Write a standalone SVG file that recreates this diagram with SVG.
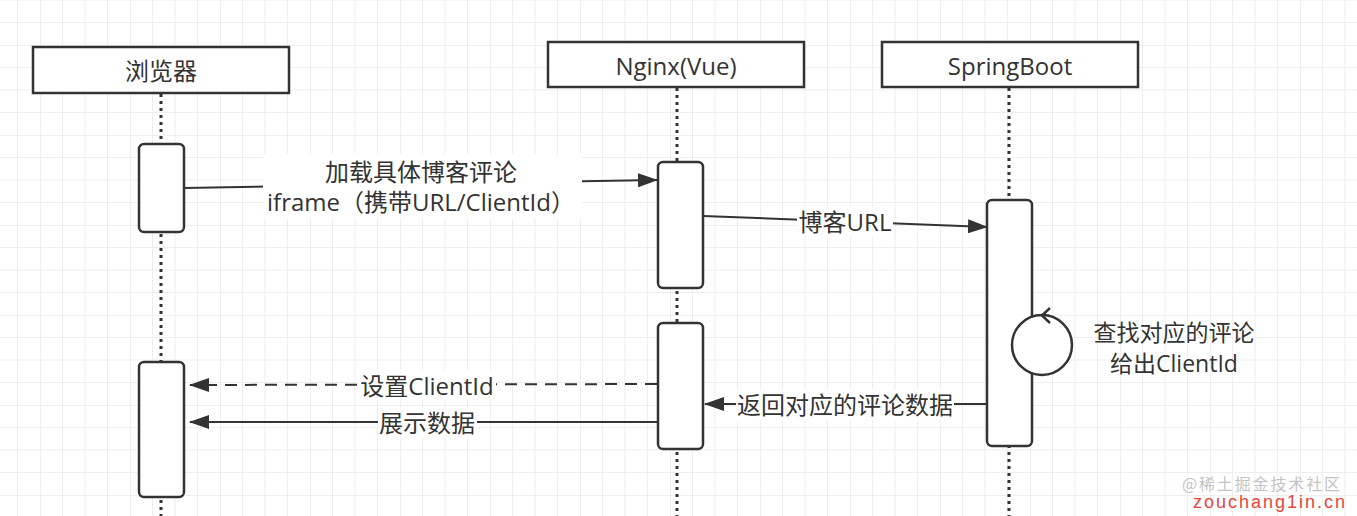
<svg xmlns="http://www.w3.org/2000/svg" width="1357" height="516" viewBox="0 0 1357 516">
<style>
.box{fill:#fff;stroke:#333;stroke-width:2.5}
.act{fill:#fff;stroke:#333;stroke-width:2.5}
.life{stroke:#333;stroke-width:3;stroke-dasharray:3 4;fill:none}
.msg{stroke:#333;stroke-width:2;fill:none}
.dash{stroke-dasharray:12 8}
.t{font-family:"Open Sans","Noto Sans CJK SC",sans-serif;font-size:24px;fill:#333;text-anchor:middle}
.ts{font-size:23px}
.lblbg{fill:#fff}
</style>
<defs>
<pattern id="grid" x="40" y="45" width="90" height="90" patternUnits="userSpaceOnUse">
<path d="M22.5 0V90M45 0V90M67.5 0V90M0 22.5H90M0 45H90M0 67.5H90" stroke="#eeeeee" stroke-width="1" fill="none"/>
<path d="M0 0V90M0 0H90" stroke="#e0e0e0" stroke-width="1" fill="none"/>
</pattern>
<marker id="arr" viewBox="0 0 20 14" refX="19" refY="7" markerWidth="20" markerHeight="14" markerUnits="userSpaceOnUse" orient="auto">
<path d="M0 0L20 7L0 14Z" fill="#333"/>
</marker>
</defs>
<rect width="1357" height="516" fill="#fff"/>
<rect width="1357" height="516" fill="url(#grid)"/>

<g id="lifelines">
<line class="life" x1="161" y1="94" x2="161" y2="516"/>
<line class="life" x1="677" y1="88" x2="677" y2="516"/>
<line class="life" x1="1009" y1="88" x2="1009" y2="516"/>
</g>

<g id="browser">
<rect class="box" x="33" y="47" width="256" height="46"/>
<text class="t" x="161" y="80">浏览器</text>
<rect class="act" x="139" y="144" width="45" height="88" rx="5"/>
<rect class="act" x="139" y="362" width="45" height="135" rx="5"/>
</g>

<g id="nginx">
<rect class="box" x="548" y="42" width="256" height="45"/>
<text class="t" x="676" y="75">Nginx(Vue)</text>
<rect class="act" x="658" y="162" width="45" height="126" rx="5"/>
<rect class="act" x="658" y="323" width="45" height="126" rx="5"/>
</g>

<g id="springboot">
<rect class="box" x="882" y="42" width="256" height="45"/>
<text class="t" x="1010" y="75">SpringBoot</text>
<rect class="act" x="987" y="200" width="45" height="246" rx="5"/>
</g>

<g id="connectors">
<line class="msg" x1="184" y1="188" x2="657" y2="180" marker-end="url(#arr)"/>
<rect class="lblbg" x="263" y="154" width="319" height="64"/>
<text class="t" x="421" y="181">加载具体博客评论</text>
<text class="t" x="421" y="211">iframe（携带URL/ClientId）</text>

<line class="msg" x1="703" y1="216" x2="987" y2="227" marker-end="url(#arr)"/>
<rect class="lblbg" x="797" y="207" width="96" height="30"/>
<text class="t" x="845" y="231">博客URL</text>

<circle cx="1042" cy="345" r="30" fill="#fff" stroke="#333" stroke-width="2.5"/>
<path d="M1050 308L1042 315.5L1050 323" fill="none" stroke="#333" stroke-width="2.5"/>
<text class="t ts" x="1174" y="341">查找对应的评论</text>
<text class="t ts" x="1174" y="372">给出ClientId</text>

<line class="msg" x1="987" y1="404" x2="705" y2="404" marker-end="url(#arr)"/>
<rect class="lblbg" x="736" y="390" width="218" height="30"/>
<text class="t" x="845" y="414">返回对应的评论数据</text>

<line class="msg dash" x1="657" y1="384" x2="190" y2="385" marker-end="url(#arr)"/>
<rect class="lblbg" x="358" y="370" width="138" height="30"/>
<text class="t" x="427" y="395">设置ClientId</text>

<line class="msg" x1="657" y1="422" x2="190" y2="422" marker-end="url(#arr)"/>
<rect class="lblbg" x="378" y="408" width="99" height="30"/>
<text class="t" x="427" y="432">展示数据</text>
</g>

<g id="watermark">
<text x="1182" y="490" font-family="'Noto Sans CJK SC',sans-serif" font-size="16" fill="#c4c4c4" textLength="158">@稀土掘金技术社区</text>
<text x="1193" y="508" font-family="'Liberation Sans',sans-serif" font-size="18" fill="#e8453c" textLength="152">zouchang1in.cn</text>
</g>
</svg>
